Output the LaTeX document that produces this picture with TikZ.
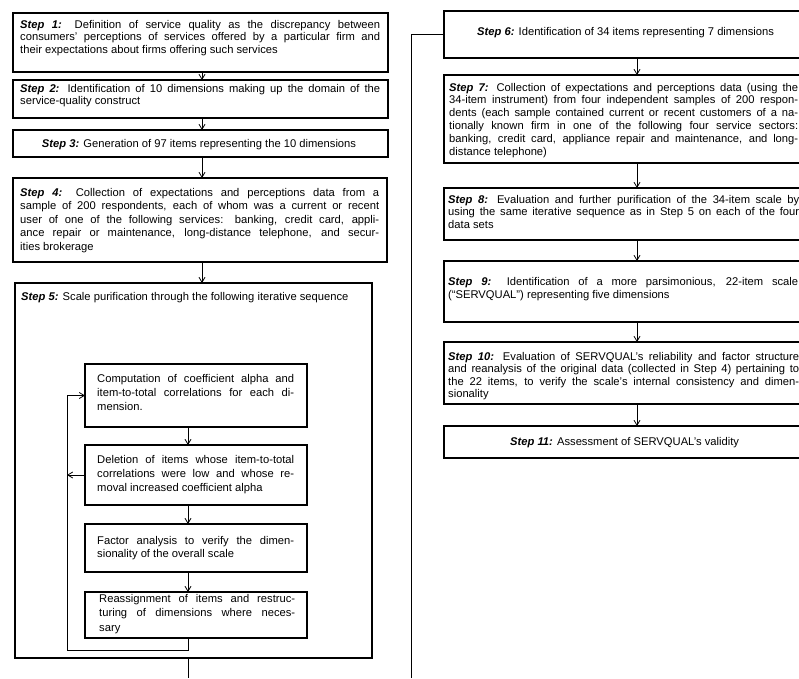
\documentclass[tikz,border=0pt]{standalone}
\usepackage{fontspec}
\setmainfont{Liberation Sans}
\usetikzlibrary{arrows.meta}
\newcommand\jline[1]{\hbox to\hsize{#1}}
\newcommand\eline[1]{\hbox to\hsize{#1\hfil}}
\newcommand\stp[1]{\textbf{\textit{#1}}}
\newcommand\tb[2]{\vtop{\hsize=#1\relax #2}}
\begin{document}
\begin{tikzpicture}[x=1pt,y=-1pt,
  box/.style={draw,line width=1.1pt,inner sep=0pt,outer sep=0pt},
  txt/.style={inner sep=0pt,anchor=base west,font=\fontsize{11.2}{#1}\selectfont},
  txt/.default=12.8,
  arr/.style={line width=0.8pt,-{Straight Barb[length=5pt,width=6pt]}},
  ln/.style={line width=0.8pt}]
\useasboundingbox (0,0) rectangle (799,678);
\clip (0,0) rectangle (799,678);
% ---------- left column ----------
\node[box,minimum width=375pt,minimum height=59pt] (s1) at (200.5,42.5) {};
\node[box,minimum width=375pt,minimum height=38pt] (s2) at (200.5,99) {};
\node[box,minimum width=375pt,minimum height=27pt] (s3) at (200.5,143.5) {};
\node[box,minimum width=374pt,minimum height=84pt] (s4) at (200,220) {};
\node[box,minimum width=357pt,minimum height=375pt] (s5) at (193.5,470.5) {};
\node[box,minimum width=222pt,minimum height=63pt] (c) at (196,395.5) {};
\node[box,minimum width=222pt,minimum height=60pt] (d) at (196,475) {};
\node[box,minimum width=222pt,minimum height=48pt] (f) at (196,548) {};
\node[box,minimum width=222pt,minimum height=46pt] (r) at (196,615) {};

\node[txt=12.5] (t1) at (20,28) {\tb{360pt}{%
\jline{\stp{Step 1:} Definition of service quality as the discrepancy between}
\jline{consumers' perceptions of services offered by a particular firm and}
\eline{their expectations about firms offering such services}}};
\node[txt=12.2] (t2) at (20,92) {\tb{360pt}{%
\jline{\stp{Step 2:} Identification of 10 dimensions making up the domain of the}
\eline{service-quality construct}}};
\node[txt,anchor=base] (t3) at (199,147) {\stp{Step 3:} Generation of 97 items representing the 10 dimensions};
\node[txt=13.5] (t4) at (20,196) {\tb{359pt}{%
\jline{\stp{Step 4:} Collection of expectations and perceptions data from a}
\jline{sample of 200 respondents, each of whom was a current or recent}
\jline{user of one of the following services: banking, credit card, appli-}
\jline{ance repair or maintenance, long-distance telephone, and secur-}
\eline{ities brokerage}}};
\node[txt] (t5) at (21,300) {\stp{Step 5:} Scale purification through the following iterative sequence};
\node[txt=14] (tc) at (97,382) {\tb{197pt}{%
\jline{Computation of coefficient alpha and}
\jline{item-to-total correlations for each di-}
\eline{mension.}}};
\node[txt=14] (td) at (97,463) {\tb{197pt}{%
\jline{Deletion of items whose item-to-total}
\jline{correlations were low and whose re-}
\eline{moval increased coefficient alpha}}};
\node[txt=13.7] (tf) at (97,544) {\tb{197pt}{%
\jline{Factor analysis to verify the dimen-}
\eline{sionality of the overall scale}}};
\node[txt=14.5] (tr) at (99,602) {\tb{196pt}{%
\jline{Reassignment of items and restruc-}
\jline{turing of dimensions where neces-}
\eline{sary}}};

\coordinate (lx) at (202,0);
\draw[arr] (s1.south -| lx) -- (s2.north -| lx);
\draw[arr] (s2.south -| lx) -- (s3.north -| lx);
\draw[arr] (s3.south -| lx) -- (s4.north -| lx);
\draw[arr] (s4.south -| lx) -- (s5.north -| lx);
\coordinate (ix) at (188,0);
\coordinate (lpb) at (67,650);
\draw[arr] (c.south -| ix) -- (d.north -| ix);
\draw[arr] (d.south -| ix) -- (f.north -| ix);
\draw[arr] (f.south -| ix) -- (r.north -| ix);
\draw[arr] (r.south -| ix) |- (lpb) |- (c.west);
\draw[arr] (d.west) -- (d.west -| lpb);
\coordinate (o5) at (188,678);
\draw[ln] (s5.south -| o5) -- (o5);

% ---------- right column ----------
\node[box,minimum width=362pt,minimum height=47pt] (s6) at (625,34.5) {};
\node[box,minimum width=362pt,minimum height=88pt] (s7) at (625,119) {};
\node[box,minimum width=362pt,minimum height=52pt] (s8) at (625,214) {};
\node[box,minimum width=362pt,minimum height=61pt] (s9) at (625,291.5) {};
\node[box,minimum width=362pt,minimum height=62pt] (s10) at (625,373) {};
\node[box,minimum width=362pt,minimum height=32pt] (s11) at (625,442) {};

\node[txt] (t6) at (477,35) {\stp{Step 6:} Identification of 34 items representing 7 dimensions};
\node[txt=12.8] (t7) at (449,91) {\tb{349pt}{%
\jline{\stp{Step 7:} Collection of expectations and perceptions data (using the}
\jline{34-item instrument) from four independent samples of 200 respon-}
\jline{dents (each sample contained current or recent customers of a na-}
\jline{tionally known firm in one of the following four service sectors:}
\jline{banking, credit card, appliance repair and maintenance, and long-}
\eline{distance telephone)}}};
\node[txt=12.7] (t8) at (448,203) {\tb{351pt}{%
\jline{\stp{Step 8:} Evaluation and further purification of the 34-item scale by}
\jline{using the same iterative sequence as in Step 5 on each of the four}
\eline{data sets}}};
\node[txt=13] (t9) at (448,285) {\tb{350pt}{%
\jline{\stp{Step 9:} Identification of a more parsimonious, 22-item scale}
\eline{(``SERVQUAL'') representing five dimensions}}};
\node[txt=12.5] (t10) at (448,360) {\tb{351pt}{%
\jline{\stp{Step 10:} Evaluation of SERVQUAL's reliability and factor structure}
\jline{and reanalysis of the original data (collected in Step 4) pertaining to}
\jline{the 22 items, to verify the scale's internal consistency and dimen-}
\eline{sionality}}};
\node[txt] (t11) at (510,445) {\stp{Step 11:} Assessment of SERVQUAL's validity};

\coordinate (rx) at (637,0);
\draw[arr] (s6.south -| rx) -- (s7.north -| rx);
\draw[arr] (s7.south -| rx) -- (s8.north -| rx);
\draw[arr] (s8.south -| rx) -- (s9.north -| rx);
\draw[arr] (s9.south -| rx) -- (s10.north -| rx);
\draw[arr] (s10.south -| rx) -- (s11.north -| rx);
\coordinate (o6) at (411,678);
\draw[ln] (o6) |- (s6.west);
\end{tikzpicture}
\end{document}
